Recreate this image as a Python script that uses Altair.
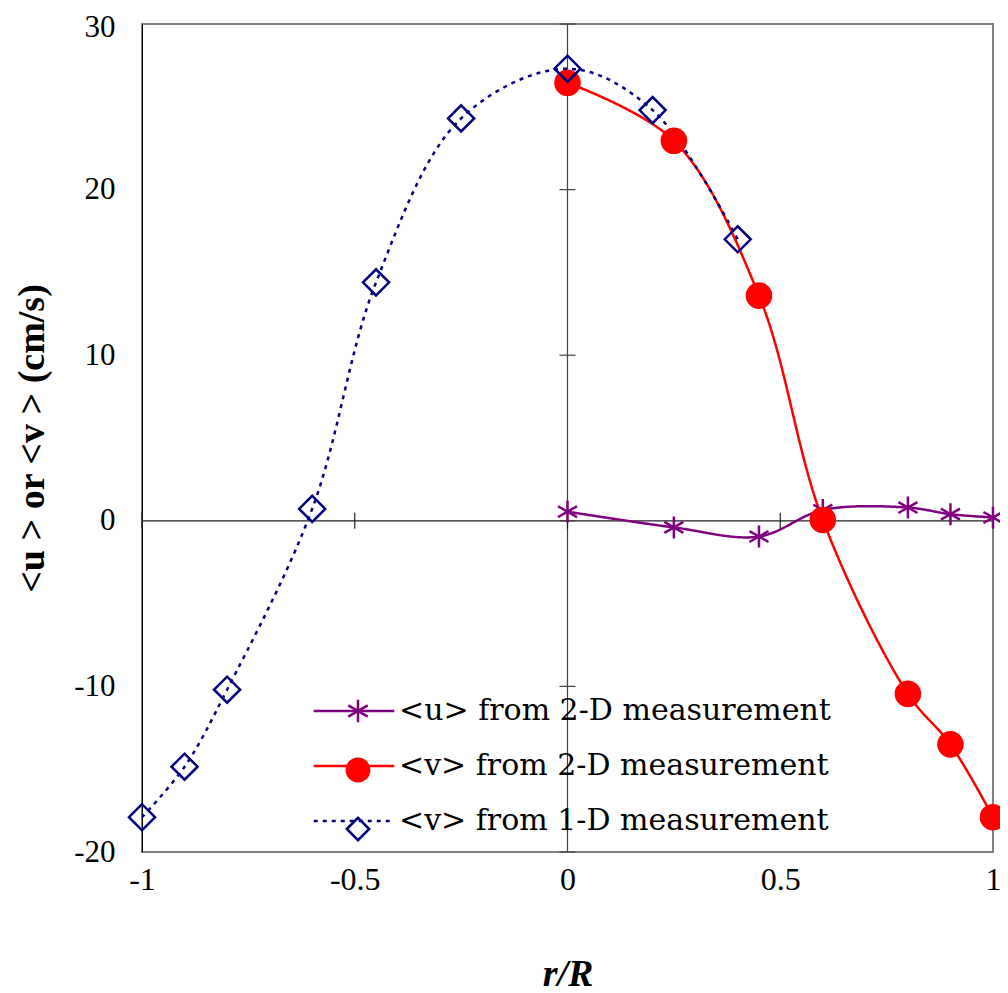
import altair as alt
import pandas as pd

# ---- data ----
r_1d = [-1.0, -0.9, -0.8, -0.6, -0.45, -0.25, 0.0, 0.2, 0.4]
v_1d = [-17.9, -14.85, -10.2, 0.72, 14.4, 24.3, 27.3, 24.8, 17.0]
r_2d = [0.0, 0.25, 0.45, 0.6, 0.8, 0.9, 1.0]
v_2d = [26.45, 22.95, 13.6, 0.05, -10.45, -13.5, -17.9]
u_2d = [0.55, -0.4, -0.95, 0.65, 0.8, 0.4, 0.2]

series_names = ["<u> from 2-D measurement", "<v> from 2-D measurement", "<v> from 1-D measurement"]
series_codes = ["u2", "v2", "v1"]
size_keys = ["u2s", "v2s", "v1s"]
series_colors = ["#800080", "#FF0000", "#000080"]
x_ticks = [-1, -0.5, 0, 0.5, 1]
y_ticks = [-20, -10, 0, 10, 20, 30]

rows = []
for i, (rs, vs) in enumerate([(r_2d, u_2d), (r_2d, v_2d), (r_1d, v_1d)]):
    for r, v in zip(rs, vs):
        rows.append({"r": r, "val": v, "name": series_names[i], "code": series_codes[i],
                     "skey": size_keys[i]})
df = pd.DataFrame(rows)

FONT = "Liberation Serif"
LFONT = "DejaVu Serif"
W, H = 851, 828

xscale = alt.Scale(domain=[-1, 1], nice=False, zero=False)
yscale = alt.Scale(domain=[-20, 30], nice=False, zero=False)

xaxis = alt.Axis(values=x_ticks, labelExpr="'' + datum.value", ticks=False, domain=False, grid=False,
                 labelFont=FONT, labelFontSize=32, labelColor="black", labelPadding=12,
                 labelFlush=False, labelOverlap=False,
                 title="r/R", titleFont=FONT, titleFontSize=38, titleFontWeight="bold",
                 titleFontStyle="italic", titleColor="black", titleX=W / 2, titleY=133,
                 titleBaseline="alphabetic", titleAlign="center")
yaxis = alt.Axis(values=y_ticks, labelExpr="'' + datum.value", ticks=False, domain=True,
                 domainColor="#000000", domainWidth=1, grid=False,
                 labelFont=FONT, labelFontSize=31, labelColor="black", labelPadding=27,
                 labelOffset={"condition": {"test": "datum.value == 30", "value": 3}, "value": 0},
                 labelFlush=False, labelOverlap=False,
                 title="<u > or <v > (cm/s)", titleFont=FONT, titleFontSize=38, titleFontWeight="bold",
                 titleColor="black", titleX=-110, titleY=H / 2, titleAngle=-90,
                 titleAlign="center", titleBaseline="middle")

LEG_Y = 672
line_legend = alt.Legend(title=None, orient="none", legendX=197, legendY=LEG_Y, padding=0,
                         symbolType="M-3.6,0L3.6,0", symbolSize=500, symbolStrokeWidth=2.5,
                         labelFont=LFONT, labelFontSize=30, labelColor="black", labelOffset=30,
                         labelLimit=0, rowPadding=25)
pt_legend = alt.Legend(title=None, orient="none", legendX=201, legendY=LEG_Y, padding=0,
                       symbolSize=500, symbolStrokeWidth=2.5, symbolOpacity=1,
                       labelExpr="''", labelFont=LFONT, labelFontSize=30, labelOffset=30,
                       labelLimit=0, rowPadding=25)

# zero axes through the origin
vrule = alt.Chart(pd.DataFrame({"r": [0.0]})).mark_rule(color="#404040", strokeWidth=1.2).encode(
    x=alt.X("r:Q", scale=xscale, axis=xaxis))
hrule = alt.Chart(pd.DataFrame({"val": [0.0]})).mark_rule(color="#202020", strokeWidth=1.2).encode(
    y=alt.Y("val:Q", scale=yscale, axis=yaxis))

xt = pd.DataFrame({"r": x_ticks, "val": [0.0] * len(x_ticks)})
yt = pd.DataFrame({"r": [0.0] * len(y_ticks), "val": y_ticks})
xtick_marks = alt.Chart(xt).mark_tick(orient="vertical", size=16, thickness=1.2, color="#202020",
                                      opacity=1).encode(x=alt.X("r:Q", scale=xscale, axis=xaxis),
                                                        y=alt.Y("val:Q", scale=yscale, axis=yaxis))
ytick_marks = alt.Chart(yt).mark_tick(orient="horizontal", size=16, thickness=1.2, color="#404040",
                                      opacity=1).encode(x=alt.X("r:Q", scale=xscale, axis=xaxis),
                                                        y=alt.Y("val:Q", scale=yscale, axis=yaxis))

lines = alt.Chart(df).mark_line(interpolate="catmull-rom", strokeWidth=2.5).encode(
    x=alt.X("r:Q", scale=xscale, axis=xaxis),
    y=alt.Y("val:Q", scale=yscale, axis=yaxis),
    color=alt.Color("name:N", scale=alt.Scale(domain=series_names, range=series_colors), legend=line_legend),
    strokeDash=alt.StrokeDash("name:N", scale=alt.Scale(domain=series_names, range=[[1, 0], [1, 0], [4, 5]]),
                              legend=line_legend),
)

asterisk = "M0,-1L0,1M-0.87,-0.5L0.87,0.5M-0.87,0.5L0.87,-0.5"
points = alt.Chart(df).mark_point(opacity=1, strokeWidth=2.5).encode(
    x=alt.X("r:Q", scale=xscale, axis=xaxis),
    y=alt.Y("val:Q", scale=yscale, axis=yaxis),
    stroke=alt.Stroke("code:N", scale=alt.Scale(domain=series_codes, range=series_colors), legend=pt_legend),
    fill=alt.Fill("code:N", scale=alt.Scale(domain=series_codes, range=["transparent", "#FF0000", "transparent"]),
                  legend=pt_legend),
    shape=alt.Shape("code:N", scale=alt.Scale(domain=series_codes, range=[asterisk, "circle", "diamond"]),
                    legend=pt_legend),
    size=alt.Size("skey:N", scale=alt.Scale(domain=size_keys, range=[480, 680, 420]), legend=None),
)

chart = alt.layer(vrule, hrule, xtick_marks, ytick_marks, lines, points).properties(
    width=W, height=H,
    autosize=alt.AutoSizeParams(type="none"),
    padding={"left": 134, "top": 16, "right": 7, "bottom": 141},
).configure_view(stroke="#808080", strokeWidth=2)

chart.save("out.html", embed_options={"renderer": "svg", "actions": False})
